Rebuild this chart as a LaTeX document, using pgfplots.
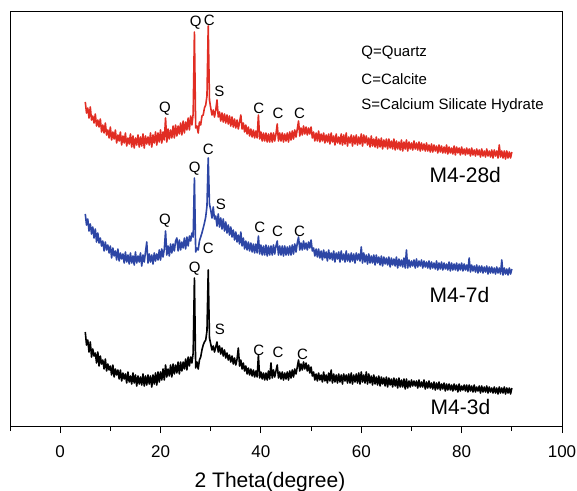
\documentclass[border=0pt]{standalone}
\usepackage{fontspec}
\setmainfont{Liberation Sans}
\usepackage{pgfplots}
\usepackage{pgfplotstable}
\pgfplotsset{compat=1.18}
\definecolor{xred}{RGB}{225,45,35}
\definecolor{xblue}{RGB}{45,70,165}
\pgfplotstableread{
x r b k
5 324 212 94
5.25 313 201 81
5.5 318 207 86
5.75 308 195 74
6 319 202 84
6.25 306 192 69
6.5 310 199 77
6.75 303 188 70
7 312 197 73
7.25 300 184 63
7.5 306 193 74
7.75 299 183 60
8 307 188 70
8.25 294 180 62
8.5 301 185 66
8.75 293 175 57
9 303 184 67
9.25 291 176 55
9.5 296 181 62
9.75 288 173 56
10 299 180 60
10.25 286 168 51
10.5 294 178 61
10.75 287 170 49
11 296 175 57
11.25 283 166 51
11.5 291 177 56
11.75 285 165 47
12 294 173 56
12.25 281 167 45
12.5 290 172 53
12.75 283 163 47
13 293 174 52
13.25 280 164 43
13.5 288 171 54
13.75 282 162 44
14 292 173 50
14.25 279 163 42
14.5 290 170 53
14.75 278 161 43
15 288 174 51
15.25 281 163 40
15.5 291 170 50
15.75 279 164 42
16 289 173 49
16.25 280 160 41
16.5 292 171 52
16.75 278 164 40
17 290 174 50
17.25 282 184 41
17.5 289 163 51
17.75 281 172 42
18 293 164 50
18.25 279 171 39
18.5 291 162 51
18.75 283 173 42
19 294 165 53
19.25 281 172 41
19.5 293 166 54
19.75 284 176 44
20 296 166 54
20.25 283 177 46
20.5 294 169 57
20.75 286 177 46
21 308 195 61
21.25 284 171 49
21.5 297 180 57
21.75 287 170 50
22 296 182 61
22.25 288 173 49
22.5 300 182 62
22.75 288 175 52
23 301 185 61
23.25 290 188 53
23.5 300 175 64
23.75 292 186 52
24 303 176 64
24.25 291 184 55
24.5 305 178 64
24.75 293 188 57
25 304 177 67
25.25 296 189 56
25.5 308 180 69
25.75 296 190 60
26 310 185 69
26.25 301 193 63
26.5 312 189 73
26.75 394 248 148
27 298 174 58
27.25 300 178 64
27.5 293 176 57
27.75 304 185 66
28 301 189 69
28.25 310 193 76
28.5 311 198 81
28.75 318 203 84
29 321 209 86
29.25 330 220 95
29.5 400 268 156
29.75 326 222 88
30 318 216 82
30.25 311 208 76
30.5 316 219 80
30.75 309 207 74
31 316 210 79
31.25 326 200 84
31.5 309 212 74
31.75 314 199 80
32 305 208 72
32.25 313 197 78
32.5 304 207 70
32.75 312 195 76
33 303 204 68
33.25 311 193 73
33.5 302 201 66
33.75 310 191 71
34 300 199 64
34.25 309 189 70
34.5 299 196 62
34.75 307 186 68
35 298 194 61
35.25 306 184 67
35.5 297 191 78
35.75 304 182 60
36 311 194 66
36.25 297 180 57
36.5 303 188 63
36.75 294 177 55
37 301 185 60
37.25 292 176 52
37.5 299 184 58
37.75 290 175 51
38 297 183 57
38.25 289 174 50
38.5 296 182 56
38.75 288 173 49
39 295 182 55
39.25 288 173 49
39.5 311 190 71
39.75 287 172 48
40 294 181 54
40.25 285 171 47
40.5 293 180 53
40.75 285 171 46
41 293 181 53
41.25 284 170 46
41.5 292 180 55
41.75 284 171 47
42 293 180 63
42.25 284 171 48
42.5 293 181 56
42.75 285 172 49
43 292 180 55
43.25 302 185 61
43.5 285 171 48
43.75 293 180 54
44 285 171 47
44.25 293 180 54
44.5 284 170 46
44.75 292 180 53
45 285 171 47
45.25 293 179 54
45.5 284 171 46
45.75 294 180 55
46 286 171 48
46.25 295 181 56
46.5 287 172 49
46.75 296 182 57
47 289 174 52
47.25 297 183 59
47.5 305 189 66
47.75 290 176 55
48 298 183 62
48.25 291 176 56
48.5 300 185 64
48.75 292 177 57
49 299 183 63
49.25 291 176 55
49.5 298 184 61
49.75 292 178 53
50 299 186 59
50.25 288 175 50
50.5 294 178 54
50.75 285 170 46
51 293 177 52
51.25 285 169 45
51.5 295 177 53
51.75 284 168 46
52 292 175 51
52.25 285 166 44
52.5 293 176 54
52.75 283 168 45
53 291 174 51
53.25 284 165 43
53.5 292 176 53
53.75 282 167 45
54 293 173 56
54.25 284 166 43
54.5 290 175 52
54.75 281 164 44
55 292 173 51
55.25 283 167 43
55.5 289 174 52
55.75 282 164 44
56 292 175 51
56.25 281 166 42
56.5 291 172 52
56.75 282 164 45
57 293 175 51
57.25 280 165 43
57.5 289 172 52
57.75 283 164 43
58 291 173 53
58.25 280 165 42
58.5 290 172 51
58.75 282 163 44
59 291 173 52
59.25 281 166 43
59.5 289 172 53
59.75 282 165 42
60 292 179 54
60.25 280 163 44
60.5 291 173 51
60.75 283 164 43
61 290 171 54
61.25 281 162 42
61.5 288 172 52
61.75 279 163 43
62 290 170 50
62.25 280 163 41
62.5 287 171 51
62.75 279 161 42
63 289 171 49
63.25 278 163 41
63.5 287 169 50
63.75 279 161 40
64 288 170 49
64.25 277 160 42
64.5 286 169 48
64.75 279 162 40
65 287 168 49
65.25 277 161 39
65.5 287 169 48
65.75 278 159 41
66 285 168 47
66.25 277 161 39
66.5 287 167 48
66.75 276 160 40
67 285 169 47
67.25 277 158 38
67.5 284 167 48
67.75 276 160 39
68 286 166 46
68.25 275 159 39
68.5 284 168 47
68.75 277 158 37
69 286 176 47
69.25 275 158 38
69.5 284 166 45
69.75 277 159 39
70 283 165 46
70.25 276 160 40
70.5 285 166 45
70.75 277 158 40
71 283 167 45
71.25 276 159 38
71.5 284 165 46
71.75 275 160 39
72 283 166 44
72.25 276 158 39
72.5 282 165 46
72.75 275 159 37
73 283 164 44
73.25 275 158 38
73.5 281 165 45
73.75 274 157 38
74 282 164 43
74.25 274 158 37
74.5 281 163 44
74.75 275 157 36
75 280 165 43
75.25 273 156 37
75.5 281 163 44
75.75 274 157 36
76 280 164 42
76.25 273 156 37
76.5 279 163 43
76.75 273 157 35
77 281 162 42
77.25 272 156 36
77.5 279 164 42
77.75 273 155 36
78 278 163 41
78.25 272 156 35
78.5 280 162 42
78.75 271 156 36
79 279 163 41
79.25 273 155 34
79.5 278 162 42
79.75 271 156 35
80 279 163 40
80.25 272 155 36
80.5 277 162 41
80.75 271 156 35
81 278 161 41
81.25 272 155 34
81.5 277 168 41
81.75 270 154 35
82 278 161 40
82.25 271 155 34
82.5 276 160 41
82.75 270 154 34
83 277 161 39
83.25 271 153 35
83.5 276 160 40
83.75 269 154 33
84 277 160 40
84.25 270 153 34
84.5 275 159 39
84.75 269 154 34
85 277 160 40
85.25 270 152 33
85.5 275 159 39
85.75 269 153 34
86 276 159 38
86.25 268 153 33
86.5 276 158 39
86.75 270 152 33
87 275 159 38
87.25 268 153 32
87.5 281 158 39
87.75 269 152 33
88 275 166 38
88.25 268 151 33
88.5 275 158 39
88.75 267 152 32
89 275 157 38
89.25 268 151 33
89.5 274 158 38
89.75 268 152 32
90 274 157 38
}\xrd
\begin{document}
\begin{tikzpicture}
\begin{axis}[
  name=ax,
  scale only axis, width=552bp, height=414bp,
  xmin=-10, xmax=100, ymin=0, ymax=414,
  axis line style={line width=1bp, black},
  xtick={0,20,...,100}, minor xtick={-10,10,...,90},
  ytick=\empty,
  xtick pos=bottom, xtick align=outside,
  major tick length=7bp, minor tick length=5bp,
  every tick/.style={black, line width=0.9bp},
  /pgf/number format/assume math mode=true,
  xticklabel style={font=\fontsize{17bp}{20bp}\selectfont, yshift=-9bp},
  xlabel={2 Theta(degree)},
  xlabel style={font=\fontsize{21bp}{24bp}\selectfont, at={(rel axis cs:0.471,-0.148)}, anchor=base},
  clip=false,
]
\addplot[xred, line width=1.6bp, line join=round] table[x=x,y=r]{\xrd};
\addplot[xblue, line width=1.6bp, line join=round] table[x=x,y=b]{\xrd};
\addplot[black, line width=1.6bp, line join=round] table[x=x,y=k]{\xrd};
\begin{scope}[every node/.style={font=\fontsize{15bp}{18bp}\selectfont, inner sep=0pt}]
% red labels
\node at (axis cs:20.9,317) {Q};
\node at (axis cs:27.0,403) {Q};
\node at (axis cs:29.7,406) {C};
\node at (axis cs:31.7,334.5) {S};
\node at (axis cs:39.6,317.5) {C};
\node at (axis cs:43.4,312.5) {C};
\node at (axis cs:47.7,312.5) {C};
% blue labels
\node at (axis cs:20.9,205) {Q};
\node at (axis cs:26.8,257) {Q};
\node at (axis cs:29.5,277) {C};
\node at (axis cs:32.0,221.5) {S};
\node at (axis cs:39.8,198.5) {C};
\node at (axis cs:43.3,195) {C};
\node at (axis cs:47.7,195) {C};
% black labels
\node at (axis cs:26.8,157) {Q};
\node at (axis cs:29.5,177.5) {C};
\node at (axis cs:31.8,97) {S};
\node at (axis cs:39.6,75.5) {C};
\node at (axis cs:43.4,73.5) {C};
\node at (axis cs:48.3,71.5) {C};
% key
\node[anchor=west] at (axis cs:60,373) {Q=Quartz};
\node[anchor=west] at (axis cs:60,346.5) {C=Calcite};
\node[anchor=west] at (axis cs:60,320) {S=Calcium Silicate Hydrate};
\end{scope}
\begin{scope}[every node/.style={font=\fontsize{21bp}{24bp}\selectfont, inner sep=0pt, anchor=west}]
\node at (axis cs:73.6,251) {M4-28d};
\node at (axis cs:73.6,131.5) {M4-7d};
\node at (axis cs:73.8,19.5) {M4-3d};
\end{scope}
\end{axis}
\pgfresetboundingbox
\path[use as bounding box] ([xshift=-10bp,yshift=-65bp]ax.south west) rectangle ([xshift=15bp,yshift=12bp]ax.north east);
\end{tikzpicture}
\end{document}
